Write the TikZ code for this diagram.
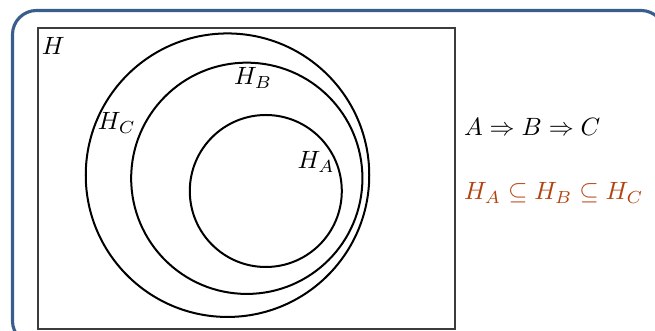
\documentclass[tikz,border=0pt]{standalone}
\usepackage{tikz}
\definecolor{framecol}{RGB}{58,94,140}
\definecolor{rectcol}{RGB}{60,60,60}
\definecolor{alertcol}{RGB}{178,67,17}
\begin{document}
\begin{tikzpicture}[x=0.4pt,y=-0.4pt,
  setcircle/.style={circle,draw=black,line width=0.8pt,inner sep=0pt},
  lbl/.style={anchor=base west,inner sep=0pt,outer sep=0pt}]
\useasboundingbox (0,0) rectangle (655,331);
\clip (0,0) rectangle (655,331);
% outer frame
\draw[framecol,line width=1.25pt,rounded corners=9.6pt] (12.5,10.5) rectangle (665,345);
% universe rectangle
\draw[rectcol,line width=0.8pt] (38,28) rectangle (455,329.5);
% sets
\node[setcircle,minimum size=113.4pt] (HC) at (227.5,175.2) {};
\node[setcircle,minimum size=92.5pt] (HB) at (246.8,178.3) {};
\node[setcircle,minimum size=60.8pt] (HA) at (265.8,191) {};
% labels
\node[lbl] (lH) at (42,55) {$H$};
\node[lbl] (lHC) at (98,129.5) {$H_C$};
\node[lbl] (lHB) at (234,85) {$H_B$};
\node[lbl] (lHA) at (297.5,168.3) {$H_A$};
\node[lbl] (impl) at (464,136) {$A\Rightarrow B\Rightarrow C$};
\node[lbl,text=alertcol] (incl) at (464,199.3) {$H_A\subseteq H_B\subseteq H_C$};
\end{tikzpicture}
\end{document}
